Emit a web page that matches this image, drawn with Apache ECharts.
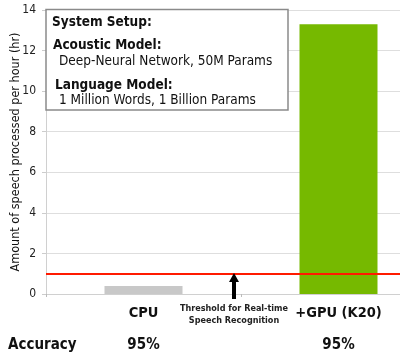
<!DOCTYPE html>
<html>
<head>
<meta charset="utf-8">
<script src="https://cdn.jsdelivr.net/npm/echarts@6/dist/echarts.min.js"></script>
<style>
  html, body { margin: 0; padding: 0; background: #fff; }
  #main { width: 400px; height: 354px; }
</style>
</head>
<body>
<div id="main"></div>
<script>
// values
const categories = ['CPU', '+GPU (K20)'];
const speed = [0.4, 13.3];          // hours of speech processed per hour
const accuracy = ['95%', '95%'];
const threshold = 1;                // real-time line
const barColors = ['#c8c8c8', '#76b900'];
const setupLines = [
  ['System Setup:', true],
  ['Acoustic Model:', true],
  ['Deep-Neural Network, 50M Params', false],
  ['Language Model:', true],
  ['1 Million Words, 1 Billion Params', false]
];

const FONT = 'DejaVu Sans Condensed, DejaVu Sans, sans-serif';
const chart = echarts.init(document.getElementById('main'), null, { renderer: 'canvas' });

// text box positions (px)
const lineY = [22, 45, 61, 85, 100];
const lineX = [52, 53, 59, 55, 59];

const boxEls = [{
  type: 'rect',
  shape: { x: 46, y: 9.5, width: 242, height: 100.5 },
  style: { fill: '#fff', stroke: '#8a8a8a', lineWidth: 1.5 },
  z: 10
}];
setupLines.forEach(function (l, i) {
  boxEls.push({
    type: 'text',
    x: lineX[i], y: lineY[i],
    style: {
      text: l[0], fill: '#111',
      font: (l[1] ? 'bold ' : '') + '13.5px ' + FONT,
      verticalAlign: 'middle'
    },
    z: 11
  });
});

// arrow + threshold label
boxEls.push({
  type: 'polygon',
  shape: { points: [[232, 299], [232, 282], [229, 282], [234, 273], [239, 282], [236, 282], [236, 299]] },
  style: { fill: '#000' },
  z: 11
});
boxEls.push({
  type: 'text',
  x: 234, y: 315,
  style: {
    text: 'Threshold for Real-time\nSpeech Recognition', fill: '#222',
    font: 'bold 9px ' + FONT, align: 'center', verticalAlign: 'middle', lineHeight: 12
  },
  z: 11
});
boxEls.push({
  type: 'text',
  x: 8, y: 345,
  style: { text: 'Accuracy', fill: '#111', font: 'bold 15px ' + FONT, verticalAlign: 'middle' },
  z: 11
});

const option = {
  animation: false,
  backgroundColor: '#fff',
  grid: { left: 46, right: -36, top: 10, bottom: 60, outerBoundsMode: 'none', containLabel: false },
  xAxis: {
    type: 'category',
    data: categories,
    axisLine: { lineStyle: { color: '#d0d0d0' } },
    axisTick: { show: true, length: 3, lineStyle: { color: '#bbb' } },
    axisLabel: {
      margin: 3,
      formatter: function (v, i) { return '{c|' + v + '}\n{a|' + accuracy[i] + '}'; },
      rich: {
        c: { fontFamily: FONT, fontWeight: 'bold', fontSize: 14.5, color: '#111', lineHeight: 32 },
        a: { fontFamily: FONT, fontWeight: 'bold', fontSize: 15, color: '#111', lineHeight: 32 }
      }
    }
  },
  yAxis: {
    type: 'value',
    min: 0, max: 14, interval: 2,
    name: 'Amount of speech processed per hour (hr)',
    nameLocation: 'middle',
    nameGap: 24,
    nameMoveOverlap: false,
    nameTextStyle: { fontFamily: FONT, fontSize: 12.5, color: '#111' },
    axisLine: { show: true, lineStyle: { color: '#d0d0d0' } },
    axisTick: { show: true, length: 4, lineStyle: { color: '#ccc' } },
    axisLabel: { margin: 10, fontFamily: FONT, fontSize: 12, color: '#222' },
    splitLine: { lineStyle: { color: '#dedede' } }
  },
  series: [{
    type: 'bar',
    data: speed.map(function (v, i) { return { value: v, itemStyle: { color: barColors[i] } }; }),
    barWidth: '40%',
    markLine: {
      silent: true,
      symbol: ['none', 'none'],
      label: { show: false },
      lineStyle: { color: '#ff1a00', width: 2, type: 'solid' },
      data: [{ yAxis: threshold }]
    }
  }],
  graphic: boxEls
};

chart.setOption(option);
</script>
</body>
</html>
